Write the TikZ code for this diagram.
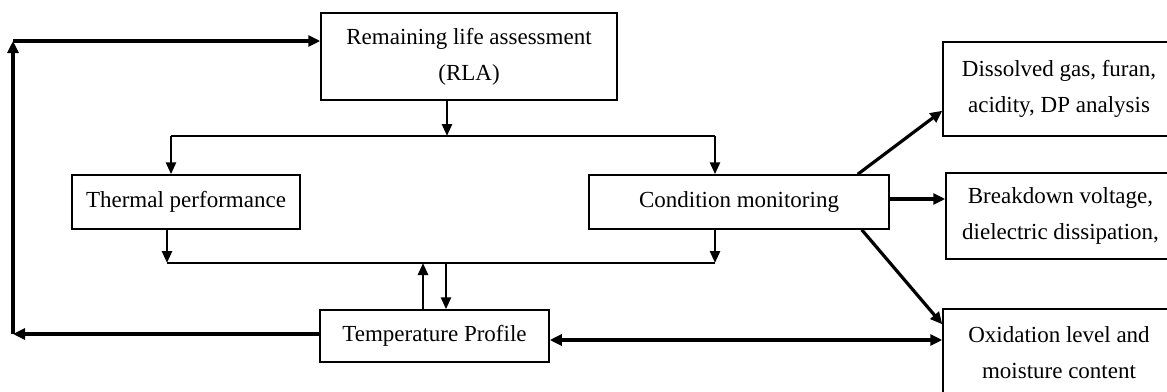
\documentclass[tikz,border=0pt]{standalone}
\usepackage{fontspec}
\setmainfont{Liberation Serif}
\usetikzlibrary{arrows.meta,calc}
\begin{document}
\begin{tikzpicture}[x=1pt,y=-1pt,
  box/.style={draw, line width=1.5pt, align=center, inner sep=0pt,
    font=\fontsize{23}{36}\selectfont},
  arr/.style={line width=3.2pt, -{Triangle[length=12pt,width=11pt]}},
  inarr/.style={line width=2.6pt, -{Triangle[length=12pt,width=10pt]}},
  dbl/.style={line width=3.2pt, {Triangle[length=12pt,width=11pt]}-{Triangle[length=12pt,width=11pt]}},
  thin/.style={line width=1.6pt}]
\useasboundingbox (0,0) rectangle (1167,391);
\clip (0,0) rectangle (1167,391);
\node[box, minimum width=296pt, minimum height=87pt] (rla) at (469,56.5) {Remaining life assessment\\(RLA)};
\node[box, minimum width=228pt, minimum height=54pt] (th) at (186,202) {Thermal performance};
\node[box, minimum width=300pt, minimum height=54pt] (cm) at (739,202) {Condition monitoring};
\node[box, minimum width=229pt, minimum height=52pt] (tp) at (434.5,336) {Temperature Profile};
\node[box, minimum width=232pt, minimum height=94pt] (dg) at (1059,89) {Dissolved gas, furan,\\acidity, DP analysis};
\node[box, minimum width=229pt, minimum height=86pt] (bv) at (1060.5,216) {Breakdown voltage,\\dielectric dissipation,};
\node[box, minimum width=232pt, minimum height=88pt] (ox) at (1059,353) {Oxidation level and\\moisture content};
% left feedback loop
\coordinate (lb) at (13,334);
\coordinate (lt) at (13,41);
\draw[arr] (tp.west |- lb) -- (lb);
\draw[arr] (lb) -- (lt);
\draw[arr] (lt) -- (lt -| rla.west);
% split from RLA
\coordinate (s0) at (447,136);
\coordinate (sl) at (171,136);
\coordinate (sr) at (715,136);
\draw[inarr] (s0 |- rla.south) -- (s0);
\draw[thin] (sl) -- (sr);
\draw[inarr] (sl) -- (sl |- th.north);
\draw[inarr] (sr) -- (sr |- cm.north);
% join to temperature profile
\coordinate (jl) at (167,263);
\coordinate (jr) at (715,263);
\coordinate (ju) at (423,263);
\coordinate (jd) at (446,263);
\draw[inarr] (jl |- th.south) -- (jl);
\draw[inarr] (jr |- cm.south) -- (jr);
\draw[thin] (jl) -- (jr);
\draw[inarr] (ju |- tp.north) -- (ju);
\draw[inarr] (jd) -- (jd |- tp.north);
% right side
\coordinate (dr) at (700,340);
\draw[dbl] (tp.east |- dr) -- (ox.west |- dr);
\coordinate (br) at (900,199);
\draw[arr] (cm.east |- br) -- (bv.west |- br);
\draw[arr] ($(cm.north east)+(-32,0)$) -- ($(dg.south west)+(0,-26)$);
\draw[arr] ($(cm.south east)+(-28,0)$) -- ($(ox.north west)+(0,16)$);
\end{tikzpicture}
\end{document}
